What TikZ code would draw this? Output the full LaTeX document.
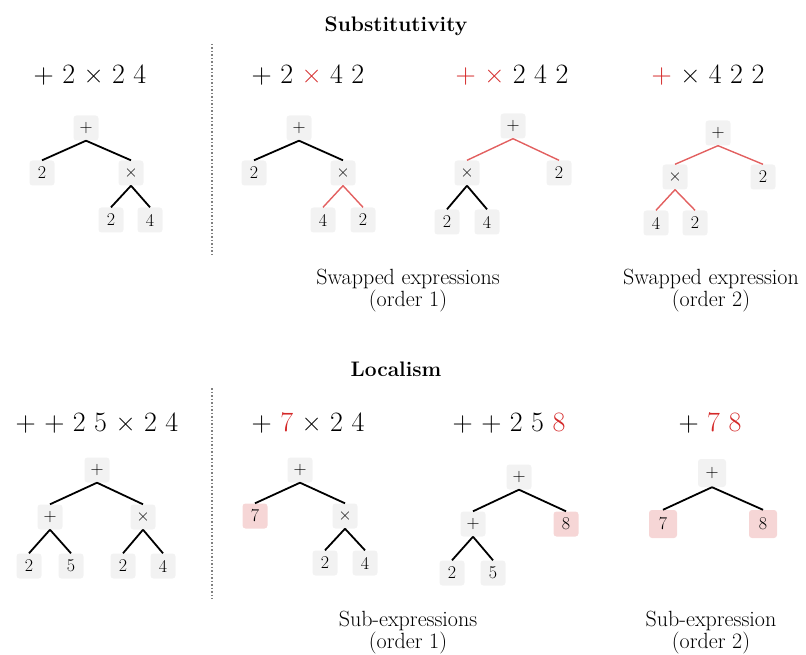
\documentclass[tikz,border=0pt]{standalone}
\usetikzlibrary{positioning}
\definecolor{hlred}{RGB}{212,40,40}
\definecolor{edgered}{RGB}{226,96,96}
\definecolor{boxgray}{RGB}{242,242,242}
\definecolor{boxpink}{RGB}{246,214,214}
\newcommand{\hl}[1]{\textcolor{hlred}{#1}}

\begin{document}
\begin{tikzpicture}[
        x=1pt, y=-1pt,
        box/.style={fill=boxgray, rounded corners=3pt, minimum size=25pt, inner sep=0pt, font=\fontsize{18}{20}\selectfont},
        hit/.style={box, fill=boxpink},
        expr/.style={anchor=base, font=\fontsize{28}{30}\selectfont},
        heading/.style={anchor=base, font=\fontsize{21}{24}\selectfont\bfseries},
        caption/.style={align=center, font=\fontsize{22}{22}\selectfont},
        edge/.style={line width=1.8pt},
        redge/.style={line width=1.4pt, draw=edgered},
        sep/.style={draw=gray, dotted, line width=1.5pt}
    ]
        \useasboundingbox (0,0) rectangle (806,655);

        % Substitutivity
        \node[heading] (subst) at (396,32) {Substitutivity};
        \draw[sep] (212,44) -- (212,257);

        \node[expr] (e1) at (90,84) {+ 2 × 2 4};
        \node[expr] (e2) at (308,84) {+ 2 \hl{×} 4 2};
        \node[expr] (e3) at (512,84) {\hl{+} \hl{×} 2 4 2};
        \node[expr] (e4) at (708,84) {\hl{+} × 4 2 2};

        % Tree 1
        \node[box] (t1p) at (86,128) {+};
        \node[box] (t1a) at (42,173) {2};
        \node[box] (t1m) at (131,173) {×};
        \node[box] (t1b) at (111,220) {2};
        \node[box] (t1c) at (150,220) {4};
        \draw[edge] (t1p.south) -- (t1a.north);
        \draw[edge] (t1p.south) -- (t1m.north);
        \draw[edge] (t1m.south) -- (t1b.north);
        \draw[edge] (t1m.south) -- (t1c.north);

        % Tree 2
        \node[box] (t2p) at (299,128) {+};
        \node[box] (t2a) at (254,173) {2};
        \node[box] (t2m) at (343,173) {×};
        \node[box] (t2b) at (323,220) {4};
        \node[box] (t2c) at (363,220) {2};
        \draw[edge] (t2p.south) -- (t2a.north);
        \draw[edge] (t2p.south) -- (t2m.north);
        \draw[redge] (t2m.south) -- (t2b.north);
        \draw[redge] (t2m.south) -- (t2c.north);

        % Tree 3
        \node[box] (t3p) at (513,126) {+};
        \node[box] (t3m) at (467,173) {×};
        \node[box] (t3a) at (559,173) {2};
        \node[box] (t3b) at (447,222) {2};
        \node[box] (t3c) at (487,222) {4};
        \draw[redge] (t3p.south) -- (t3m.north);
        \draw[redge] (t3p.south) -- (t3a.north);
        \draw[edge] (t3m.south) -- (t3b.north);
        \draw[edge] (t3m.south) -- (t3c.north);

        % Tree 4
        \node[box] (t4p) at (718,133) {+};
        \node[box] (t4m) at (675,177) {×};
        \node[box] (t4a) at (763,177) {2};
        \node[box] (t4b) at (656,223) {4};
        \node[box] (t4c) at (695,223) {2};
        \draw[redge] (t4p.south) -- (t4m.north);
        \draw[redge] (t4p.south) -- (t4a.north);
        \draw[redge] (t4m.south) -- (t4b.north);
        \draw[redge] (t4m.south) -- (t4c.north);

        \node[caption] (c1) at (408,291) {Swapped expressions\\(order 1)};
        \node[caption] (c2) at (711,291) {Swapped expression\\(order 2)};

        % Localism
        \node[heading] (local) at (396,376) {Localism};
        \draw[sep] (212,388) -- (212,599);

        \node[expr] (e5) at (97,431) {+ + 2 5 × 2 4};
        \node[expr] (e6) at (308,431) {+ \hl{7} × 2 4};
        \node[expr] (e7) at (509,431) {+ + 2 5 \hl{8}};
        \node[expr] (e8) at (710,431) {+ \hl{7} \hl{8}};

        % Tree 5
        \node[box] (b1p) at (97,470) {+};
        \node[box] (b1l) at (50,517) {+};
        \node[box] (b1m) at (143,517) {×};
        \node[box] (b1a) at (29,566) {2};
        \node[box] (b1b) at (71,566) {5};
        \node[box] (b1c) at (123,566) {2};
        \node[box] (b1d) at (163,566) {4};
        \draw[edge] (b1p.south) -- (b1l.north);
        \draw[edge] (b1p.south) -- (b1m.north);
        \draw[edge] (b1l.south) -- (b1a.north);
        \draw[edge] (b1l.south) -- (b1b.north);
        \draw[edge] (b1m.south) -- (b1c.north);
        \draw[edge] (b1m.south) -- (b1d.north);

        % Tree 6
        \node[box] (b2p) at (300,470) {+};
        \node[hit] (b2a) at (255,516) {7};
        \node[box] (b2m) at (345,516) {×};
        \node[box] (b2b) at (325,563) {2};
        \node[box] (b2c) at (365,563) {4};
        \draw[edge] (b2p.south) -- (b2a.north);
        \draw[edge] (b2p.south) -- (b2m.north);
        \draw[edge] (b2m.south) -- (b2b.north);
        \draw[edge] (b2m.south) -- (b2c.north);

        % Tree 7
        \node[box] (b3p) at (519,477) {+};
        \node[box] (b3l) at (473,524) {+};
        \node[hit] (b3a) at (566,524) {8};
        \node[box] (b3b) at (452,573) {2};
        \node[box] (b3c) at (493,573) {5};
        \draw[edge] (b3p.south) -- (b3l.north);
        \draw[edge] (b3p.south) -- (b3a.north);
        \draw[edge] (b3l.south) -- (b3b.north);
        \draw[edge] (b3l.south) -- (b3c.north);

        % Tree 8
        \node[box, minimum size=28pt] (b4p) at (712,473) {+};
        \node[hit, minimum size=28pt] (b4a) at (663,524) {7};
        \node[hit, minimum size=28pt] (b4b) at (763,524) {8};
        \draw[edge] (b4p.south) -- (b4a.north);
        \draw[edge] (b4p.south) -- (b4b.north);

        \node[caption] (c3) at (408,633) {Sub-expressions\\(order 1)};
        \node[caption] (c4) at (711,633) {Sub-expression\\(order 2)};
    \end{tikzpicture}
\end{document}
